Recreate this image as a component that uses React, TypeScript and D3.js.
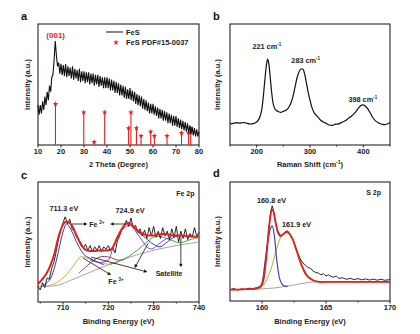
import React from 'react';
import * as d3 from 'd3';

const FONT = '"Liberation Sans", Arial, Helvetica, sans-serif';
const RED = '#e3201c';

// ---------- Panel a: XRD ----------
const XRD_START = 10;
const XRD_STEP = 0.5;
const XRD_VALUES = [
  33, 25, 33, 26, 36, 29, 40, 33, 44, 37, 49, 44, 56, 58, 70, 86, 74, 65, 68, 59,
  67, 58, 66, 57, 67, 56, 65, 57, 64, 55, 65, 54, 63, 55, 62, 53, 63, 52, 61, 53,
  61, 51, 60, 52, 60, 50, 59, 51, 59, 49, 58, 50, 58, 48, 57, 49, 56, 47, 56, 47,
  56, 47, 55, 45, 54, 45, 53, 43, 52, 43, 51, 41, 50, 41, 49, 39, 48, 38, 46, 38,
  47, 37, 45, 36, 44, 34, 42, 33, 41, 32, 40, 30, 38, 29, 37, 28, 35, 26, 34, 26,
  34, 25, 32, 24, 31, 22, 30, 22, 29, 20, 28, 20, 27, 18, 26, 18, 25, 16, 24, 16,
  24, 15, 22, 14, 21, 13, 20, 12, 19, 11, 18, 10, 16, 9, 15, 8, 14, 7, 13, 7,
  11,
];
const PDF_POS = [17.6, 29.9, 34.4, 39.0, 49.4, 50.4, 52.8, 54.8, 59.0, 60.6, 66.1, 72.4, 75.5, 76.4];
const PDF_INT = [34, 27, 2.5, 27, 14, 27, 14, 7.5, 11, 7.5, 7.5, 10, 10, 14];
const XRD_TICKS = [10, 20, 30, 40, 50, 60, 70, 80];

// ---------- Panel b: Raman ----------
const RAMAN_X = [150, 156, 162, 168, 174, 180, 186, 193, 200, 205, 209, 212, 215, 218, 220.5, 222.5, 225, 228, 231, 234, 237, 241, 246, 251, 256, 260, 264, 268, 272, 276, 280, 284, 287, 290, 293, 296, 300, 304, 308, 312, 316, 320, 325, 330, 336, 342, 348, 354, 360, 366, 372, 378, 384, 390, 395, 399, 403, 408, 413, 418, 424, 430, 436, 441, 446, 450];
const RAMAN_Y = [17.5, 17.8, 18.5, 18, 18.6, 18.2, 17.4, 17.6, 19, 22, 28, 38, 52, 65, 71, 68, 58, 44, 34, 30, 28.5, 27.5, 27, 28, 29, 31, 34.5, 40, 48, 56, 61, 63, 62.5, 58.5, 52, 45, 37, 30.5, 26.5, 24.5, 22.5, 20.5, 19, 18, 16.5, 16.2, 17.2, 17.5, 18.8, 20, 22, 24, 26.5, 30, 32.5, 33.2, 32.5, 30, 26.5, 22.5, 19.5, 18, 17, 16.8, 17.5, 18.5];
const RAMAN_TICKS = [200, 300, 400];
const RAMAN_MINOR = [150, 250, 350, 450];
const RAMAN_PEAKS = [221, 283, 398];

// ---------- Panel c: Fe 2p XPS ----------
const FE_EXP_START = 704.5;
const FE_EXP_STEP = 0.5;
const FE_EXP = [
  13, 10, 16, 12, 20, 19, 28, 33, 42, 52, 60, 66, 71, 65, 69, 61, 59, 54, 52, 49,
  45, 48, 43, 47, 42, 46, 43, 47, 42, 46, 44, 47, 43, 45, 41, 51, 55, 61, 64, 68,
  63, 70, 62, 64, 58, 61, 55, 60, 53, 62, 55, 63, 54, 59, 53, 62, 55, 59, 52, 61,
  54, 63, 50, 59, 53, 61, 52, 57, 54, 62, 55, 58,
];
const FE_FIT = [[704.5, 15], [706.4, 24], [707.9, 37.5], [709.0, 54], [710.1, 65], [710.8, 67], [711.9, 64], [713.0, 55.5], [714.1, 47], [715.2, 43], [716.7, 42.5], [718.2, 43], [719.6, 43], [720.7, 44], [721.9, 53], [723.0, 61], [724.1, 65.5], [724.8, 65.5], [725.9, 61.5], [727.0, 58], [728.5, 55.5], [729.9, 55.5], [731.4, 56.5], [732.9, 56.5], [734.3, 55.5], [735.8, 55.5], [737.3, 55], [738.7, 54.5], [740, 54.5]];
const FE_BG = [[704.5, 12.8], [707, 13.2], [709, 14.2], [711.8, 18.3], [715.5, 24], [719, 29.5], [722.9, 35], [726.5, 39.5], [730.2, 43.3], [735, 47], [740, 50]];
const FE_OLIVE = [[706, 13], [708, 15], [710, 20], [712, 28.5], [713.2, 35], [714, 37.8], [715, 37], [716.5, 35], [718, 33], [720, 31.5], [721.5, 32.5]];
const FE_BROWN = [[713.5, 24], [715, 29], [716.5, 34], [718, 37.3], [719.2, 38], [720.5, 37], [722, 35], [723.6, 35.5]];
const FE_BLUE1 = [[705.5, 13.5], [707, 18], [708, 27], [709, 42], [710, 58], [710.8, 65], [711.8, 60], [713.3, 47.5], [714.8, 39], [716.2, 36], [717.5, 33.5], [719, 31]];
const FE_BLUE2 = [[726, 60], [728, 54], [730, 48], [731.4, 46], [733, 50], [734.5, 54], [736, 55.5], [738, 55], [740, 54]];
const FE_PURPLE = [[716, 35], [718, 33], [720, 35], [721, 45], [722, 54], [723, 60], [724, 63], [724.8, 64], [726, 59], [727.5, 51], [728.8, 45], [729.8, 44.5], [731, 48], [732.5, 52], [734, 54.5]];
const FE_GREEN = [[720.4, 31.5], [722.5, 34], [724.5, 38], [726.5, 43.5], [728.5, 50], [730, 54], [730.7, 54.7], [732, 54], [733.5, 52], [735, 50], [735.8, 49.4], [737, 50.5], [738.5, 52.5], [740, 53.6]];
const FE_TICKS = [710, 720, 730, 740];
const FE_MINOR = [705, 715, 725, 735];
const FE_PEAKS = [711.3, 724.9];

// ---------- Panel d: S 2p XPS ----------
const S_EXP = [[157.5, 9.5], [157.8, 10.5], [158.1, 9.2], [158.4, 10.2], [158.7, 9.6], [159, 10.8], [159.3, 10], [159.6, 11.2], [159.8, 12], [160, 14], [160.2, 25], [160.4, 45], [160.55, 62], [160.7, 76], [160.8, 80], [160.9, 76], [161.05, 66], [161.2, 58], [161.4, 54], [161.6, 55], [161.8, 58], [162, 59], [162.2, 56], [162.4, 52], [162.6, 46], [162.8, 40], [163, 35], [163.2, 32], [163.4, 30], [163.6, 28], [163.8, 27.5], [164, 25], [164.2, 24], [164.4, 23.5], [164.6, 22], [164.8, 23], [165, 21], [165.2, 22], [165.4, 20.5], [165.6, 20], [165.8, 21], [166, 19], [166.3, 19.5], [166.6, 18.2], [166.9, 19], [167.2, 18], [167.5, 18.8], [167.8, 17.8], [168.1, 18.6], [168.4, 17.6], [168.7, 18.4], [169, 17.5], [169.3, 18.2], [169.6, 17.4], [170, 18]];
const S_FIT = [[157.5, 9.5], [158.5, 9.8], [159.5, 10.5], [159.9, 12], [160.1, 17], [160.3, 33], [160.5, 56], [160.65, 71], [160.78, 77], [160.9, 75], [161.05, 67], [161.25, 58], [161.45, 55], [161.7, 56.5], [161.9, 58], [162.1, 57], [162.35, 53], [162.7, 42.6], [163.1, 30], [163.5, 21.6], [164, 17.4], [164.5, 16], [165, 16], [170, 16]];
const S_BG = [[157.5, 9.5], [159, 9.8], [160, 10.2], [161, 11], [162, 12.5], [163, 14.5], [163.8, 15.7], [164.5, 16], [170, 16]];
const S_BLUE = [[159.3, 10.2], [159.8, 11.5], [160.0, 15], [160.2, 30], [160.45, 50], [160.7, 62], [160.8, 63], [160.95, 56], [161.15, 35], [161.4, 18], [161.65, 13], [162, 12.3]];
const S_OLIVE = [[159.6, 10.6], [160.1, 13.4], [160.63, 24.6], [161.15, 44], [161.54, 55], [161.93, 58], [162.3, 53], [162.7, 41.5], [163.1, 29], [163.5, 20.5], [164, 16.8], [164.6, 16]];
const S_TICKS = [160, 165, 170];
const S_MINOR = [162.5, 167.5];
const S_PEAKS = [160.8, 161.9];

type Box = { x0: number; x1: number; y0: number; y1: number };

function Frame({ box, x, ticks, minor, tickY, title, titleY, yTitleX, letter, letterX, letterY }: any) {
  const cy = (box.y0 + box.y1) / 2;
  return (
    <g>
      <rect x={box.x0} y={box.y0} width={box.x1 - box.x0} height={box.y1 - box.y0} fill="none" stroke="#111" strokeWidth={1} />
      {ticks.map((t: number) => (
        <g key={'t' + t}>
          <line x1={x(t)} x2={x(t)} y1={box.y1} y2={box.y1 + 2.5} stroke="#111" strokeWidth={0.9} />
          <text x={x(t)} y={tickY} textAnchor="middle" fontSize={7.5} fontWeight="bold" fill="#222">{t}</text>
        </g>
      ))}
      {minor.map((t: number) => (
        <line key={'m' + t} x1={x(t)} x2={x(t)} y1={box.y1} y2={box.y1 + 1.6} stroke="#111" strokeWidth={0.8} />
      ))}
      <text x={(box.x0 + box.x1) / 2} y={titleY} textAnchor="middle" fontSize={7.5} fontWeight="bold" fill="#222">{title}</text>
      <text transform={`translate(${yTitleX},${cy}) rotate(-90)`} textAnchor="middle" fontSize={7.5} fontWeight="bold" fill="#222">Intensity (a.u.)</text>
      <text x={letterX} y={letterY} fontSize={11} fontWeight="bold" fill="#111">{letter}</text>
    </g>
  );
}

function Arrow({ x1, y1, x2, y2 }: any) {
  const ang = Math.atan2(y2 - y1, x2 - x1);
  const L = 3.5, W = 1.8;
  const bx = x2 - L * Math.cos(ang), by = y2 - L * Math.sin(ang);
  const px = -Math.sin(ang) * W, py = Math.cos(ang) * W;
  return (
    <g>
      <line x1={x1} y1={y1} x2={bx} y2={by} stroke="#111" strokeWidth={0.8} />
      <path d={`M${x2},${y2}L${bx + px},${by + py}L${bx - px},${by - py}Z`} fill="#111" />
    </g>
  );
}

export default function App() {
  // panel a
  const boxA: Box = { x0: 38, x1: 199, y0: 24, y1: 145 };
  const xA = d3.scaleLinear().domain([10, 80]).range([boxA.x0, boxA.x1]);
  const yA = d3.scaleLinear().domain([0, 100]).range([boxA.y1, boxA.y0]);
  const xrdLine = d3.line<number>().x((_, i) => xA(XRD_START + i * XRD_STEP)).y((v) => yA(v));
  const star = d3.symbol().type(d3.symbolStar).size(10)() as string;

  // panel b
  const boxB: Box = { x0: 230, x1: 390, y0: 24, y1: 145 };
  const xB = d3.scaleLinear().domain([150, 450]).range([boxB.x0, boxB.x1]);
  const yB = d3.scaleLinear().domain([0, 100]).range([boxB.y1, boxB.y0]);
  const ramanLine = d3.line<number>().x((v) => xB(v)).y((_, i) => yB(RAMAN_Y[i])).curve(d3.curveCatmullRom);
  const ramanLabelY = [79, 68, 35.5];
  const ramanLabelX = [219, 292, 399];

  // panel c
  const boxC: Box = { x0: 38, x1: 199, y0: 182, y1: 302 };
  const xC = d3.scaleLinear().domain([704.5, 740]).range([boxC.x0, boxC.x1]);
  const yC = d3.scaleLinear().domain([0, 100]).range([boxC.y1, boxC.y0]);
  const cSmooth = d3.line<number[]>().x((d) => xC(d[0])).y((d) => yC(d[1])).curve(d3.curveCatmullRom);
  const cExp = d3.line<number>().x((_, i) => xC(FE_EXP_START + i * FE_EXP_STEP)).y((v) => yC(v));

  // panel d
  const boxD: Box = { x0: 230, x1: 390, y0: 182, y1: 301 };
  const xD = d3.scaleLinear().domain([157.5, 170]).range([boxD.x0, boxD.x1]);
  const yD = d3.scaleLinear().domain([0, 100]).range([boxD.y1, boxD.y0]);
  const dSmooth = d3.line<number[]>().x((d) => xD(d[0])).y((d) => yD(d[1])).curve(d3.curveCatmullRom);
  const dLin = d3.line<number[]>().x((d) => xD(d[0])).y((d) => yD(d[1]));

  const sup = (t: string) => <tspan dy={-3} fontSize={4.5}>{t}</tspan>;

  return (
    <svg width={420} height={334} style={{ position: 'absolute', left: 0, top: 0, background: '#fff' }} fontFamily={FONT}>
      <rect width={420} height={334} fill="#fff" />
      {/* ---------- a ---------- */}
      <Frame box={boxA} x={xA} ticks={XRD_TICKS} minor={[]} tickY={154} title="2 Theta (Degree)" titleY={167} yTitleX={30} letter="a" letterX={21} letterY={20} />
      <g>
        {PDF_POS.map((p, i) => (
          <g key={p}>
            <line x1={xA(p)} x2={xA(p)} y1={yA(0)} y2={yA(PDF_INT[i])} stroke={RED} strokeWidth={1.1} />
            <path d={star} transform={`translate(${xA(p)},${yA(PDF_INT[i])})`} fill={RED} />
          </g>
        ))}
        <path d={xrdLine(XRD_VALUES) as string} fill="none" stroke="#111" strokeWidth={1.1} />
        <text x={xA(17.7)} y={38} textAnchor="middle" fontSize={8} fontWeight="bold" fill={RED}>(001)</text>
        <line x1={106} x2={123} y1={32} y2={32} stroke="#111" strokeWidth={1} />
        <text x={126} y={34.5} fontSize={7.5} fontWeight="bold" fill="#222">FeS</text>
        <path d={star} transform="translate(116,42.5)" fill={RED} />
        <text x={126} y={45} fontSize={7.5} fontWeight="bold" fill="#222">FeS PDF#15-0037</text>
      </g>

      {/* ---------- b ---------- */}
      <Frame box={boxB} x={xB} ticks={RAMAN_TICKS} minor={RAMAN_MINOR} tickY={154} title={<tspan>Raman Shift (cm<tspan dy={-3} fontSize={5}>-1</tspan><tspan dy={3}>)</tspan></tspan>} titleY={167} yTitleX={220} letter="b" letterX={213} letterY={20} />
      <path d={ramanLine(RAMAN_X) as string} fill="none" stroke="#111" strokeWidth={1.2} />
      {RAMAN_PEAKS.map((p, i) => (
        <text key={p} x={xB(ramanLabelX[i])} y={yB(ramanLabelY[i])} textAnchor="middle" fontSize={7.3} fontWeight="bold" fill="#222">
          {p} cm<tspan dy={-3} fontSize={4.5}>-1</tspan>
        </text>
      ))}

      {/* ---------- c ---------- */}
      <Frame box={boxC} x={xC} ticks={FE_TICKS} minor={FE_MINOR} tickY={310} title="Binding Energy (eV)" titleY={324} yTitleX={30} letter="c" letterX={21} letterY={179} />
      <g fill="none">
        <path d={cSmooth(FE_BG) as string} stroke="#9a9a9a" strokeWidth={0.9} />
        <path d={cSmooth(FE_OLIVE) as string} stroke="#a9b032" strokeWidth={0.9} />
        <path d={cSmooth(FE_BROWN) as string} stroke="#9b2a3a" strokeWidth={0.9} />
        <path d={cSmooth(FE_GREEN) as string} stroke="#2f9a3a" strokeWidth={0.9} />
        <path d={cSmooth(FE_PURPLE) as string} stroke="#8a2bd0" strokeWidth={0.9} />
        <path d={cSmooth(FE_BLUE1) as string} stroke="#2c3bb5" strokeWidth={1} />
        <path d={cSmooth(FE_BLUE2) as string} stroke="#2c3bb5" strokeWidth={1} />
        <path d={cExp(FE_EXP) as string} stroke="#111" strokeWidth={0.9} />
        <path d={cSmooth(FE_FIT) as string} stroke={RED} strokeWidth={2} />
      </g>
      <text x={xC(710.2)} y={yC(76)} textAnchor="middle" fontSize={7.3} fontWeight="bold" fill="#222">{FE_PEAKS[0]} eV</text>
      <text x={xC(724.8)} y={yC(74)} textAnchor="middle" fontSize={7.3} fontWeight="bold" fill="#222">{FE_PEAKS[1]} eV</text>
      <text x={xC(739)} y={yC(88)} textAnchor="end" fontSize={7} fontWeight="bold" fill="#222">Fe 2p</text>
      <Arrow x1={xC(712)} y1={yC(65)} x2={xC(715.4)} y2={yC(65)} />
      <Arrow x1={xC(723.8)} y1={yC(65)} x2={xC(720.4)} y2={yC(65)} />
      <text x={xC(715.8)} y={yC(62.5)} fontSize={7} fontWeight="bold" fill="#222">Fe {sup('2+')}</text>
      <Arrow x1={xC(714.4)} y1={yC(36.7)} x2={xC(720.6)} y2={yC(22.5)} />
      <Arrow x1={xC(728.8)} y1={yC(49)} x2={xC(725.8)} y2={yC(28.3)} />
      <text x={xC(721.7)} y={yC(15)} textAnchor="middle" fontSize={7} fontWeight="bold" fill="#222">Fe {sup('3+')}</text>
      <Arrow x1={xC(716.2)} y1={yC(37.5)} x2={xC(728.6)} y2={yC(25)} />
      <Arrow x1={xC(736)} y1={yC(54)} x2={xC(736)} y2={yC(29)} />
      <text x={xC(733.4)} y={yC(21.7)} textAnchor="middle" fontSize={7} fontWeight="bold" fill="#222">Satellite</text>

      {/* ---------- d ---------- */}
      <Frame box={boxD} x={xD} ticks={S_TICKS} minor={S_MINOR} tickY={310} title="Binding Energy (eV)" titleY={324} yTitleX={220} letter="d" letterX={213} letterY={177} />
      <g fill="none">
        <path d={dSmooth(S_BG) as string} stroke="#9a9a9a" strokeWidth={0.9} />
        <path d={dLin(S_EXP) as string} stroke="#111" strokeWidth={0.9} />
        <path d={dSmooth(S_OLIVE) as string} stroke="#a9b032" strokeWidth={1} />
        <path d={dSmooth(S_BLUE) as string} stroke="#2c3bb5" strokeWidth={1.1} />
        <path d={dSmooth(S_FIT) as string} stroke={RED} strokeWidth={1.8} />
      </g>
      <text x={xD(160.75)} y={yD(82)} textAnchor="middle" fontSize={7.3} fontWeight="bold" fill="#222">{S_PEAKS[0]} eV</text>
      <text x={xD(162.7)} y={yD(62)} textAnchor="middle" fontSize={7.3} fontWeight="bold" fill="#222">{S_PEAKS[1]} eV</text>
      <text x={xD(169.3)} y={yD(89)} textAnchor="end" fontSize={7} fontWeight="bold" fill="#222">S 2p</text>
    </svg>
  );
}
